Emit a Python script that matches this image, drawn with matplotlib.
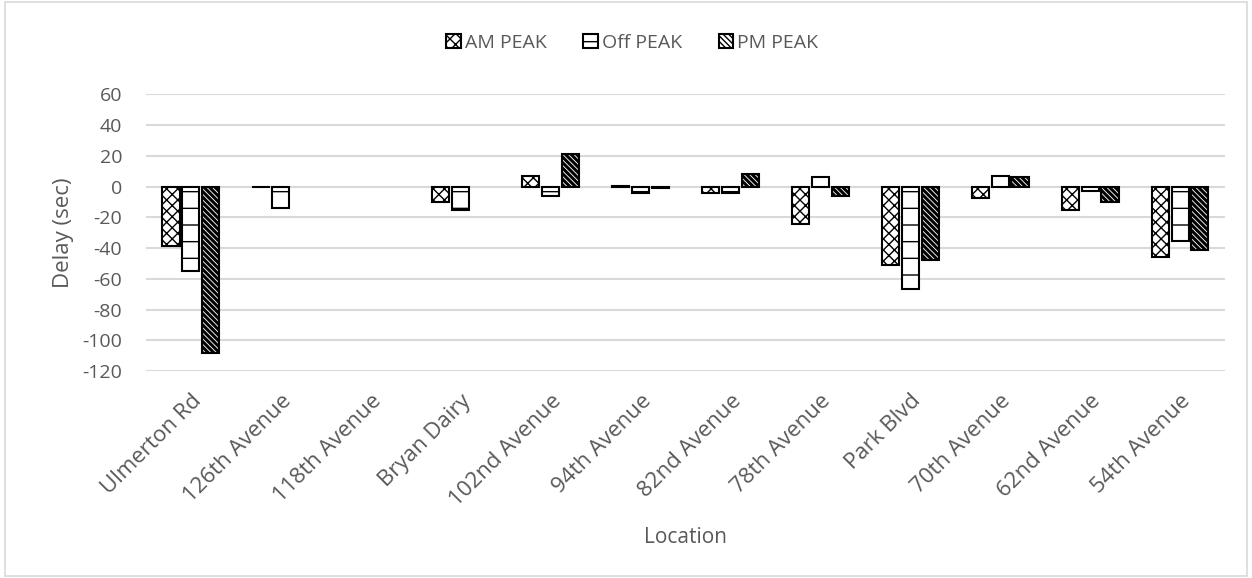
import numpy as np
import matplotlib.pyplot as plt
from matplotlib.patches import Rectangle

plt.rcParams['font.family'] = ['Open Sans', 'DejaVu Sans']
plt.rcParams['axes.unicode_minus'] = False
plt.rcParams['hatch.linewidth'] = 1.0

# data (nan = no bar)
locations = ['Ulmerton Rd', '126th Avenue', '118th Avenue', 'Bryan Dairy', '102nd Avenue',
             '94th Avenue', '82nd Avenue', '78th Avenue', 'Park Blvd', '70th Avenue',
             '62nd Avenue', '54th Avenue']
am_peak = [-39, -0.5, np.nan, -10, 7, 0.5, -4.5, -24.5, -51, -7.5, -15, -46]
off_peak = [-55, -14, np.nan, -15, -6.5, -4, -4.5, 6.5, -66.5, 7, -3, -35.5]
pm_peak = [-108, np.nan, np.nan, np.nan, 21, -1, 8, -6, -47.5, 6, -10, -41]
yticks = list(range(-120, 61, 20))

grey = '#595959'
fig = plt.figure(figsize=(12.52, 5.78), dpi=100)
ax = fig.add_axes([0.1165, 0.358, 0.862, 0.479])

x = np.arange(len(locations))
w = 0.19
step = 0.22
ax.bar(x - step, am_peak, w, facecolor='white', edgecolor='black', lw=1.5, hatch='xxx', label='AM PEAK', zorder=3)
ax.bar(x, off_peak, w, facecolor='white', edgecolor='black', lw=1.5, hatch='-', label='Off PEAK', zorder=3)
with plt.rc_context({'hatch.linewidth': 2.2}):
    ax.bar(x + step, pm_peak, w, facecolor='white', edgecolor='black', lw=1.5,
           hatch='\\\\\\\\\\\\', label='PM PEAK', zorder=3)

ax.set_ylim(-120, 60)
ax.set_xlim(-0.5, len(locations) - 0.5)
ax.set_yticks(yticks)
ax.yaxis.grid(True, color='#d9d9d9', lw=1.5, zorder=0)
ax.set_axisbelow(True)
for s in ax.spines.values():
    s.set_visible(False)
ax.tick_params(length=0, labelsize=14, labelcolor=grey)
ax.tick_params(axis='y', pad=17)
ax.set_xticks(x)
ax.set_xticklabels(locations, rotation=45, ha='right', va='top', rotation_mode='anchor', fontsize=16)
ax.tick_params(axis='x', pad=14)

ax.set_ylabel('Delay (sec)', fontsize=16, color=grey, labelpad=6)
ax.set_xlabel('Location', fontsize=15, color=grey, labelpad=12)

fig.legend(loc='center', bbox_to_anchor=(0.505, 0.926), ncol=3, frameon=False,
           fontsize=14, labelcolor=grey, handlelength=0.75, handleheight=0.75,
           handletextpad=0.2, columnspacing=1.9)

fig.patches.append(Rectangle((0.004, 0.004), 0.992, 0.992, transform=fig.transFigure,
                             fill=False, edgecolor='#d9d9d9', lw=1.2))

fig.savefig('out.png', dpi=100)
